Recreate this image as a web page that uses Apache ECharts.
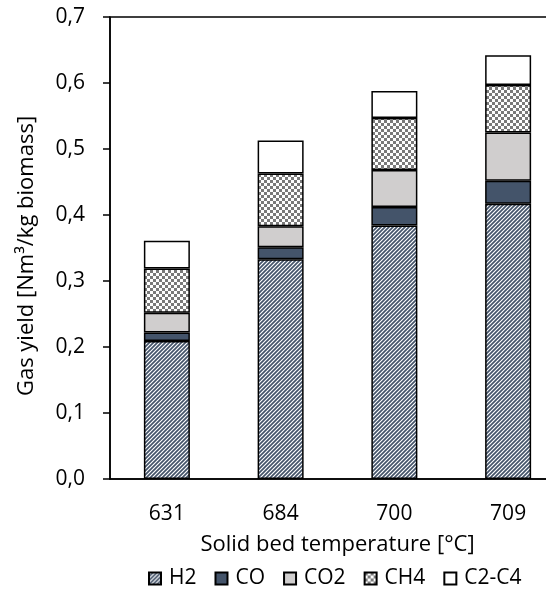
<!DOCTYPE html>
<html>
<head>
<meta charset="utf-8">
<script src="https://cdn.jsdelivr.net/npm/echarts@6/dist/echarts.min.js"></script>
<style>
  html, body { margin: 0; padding: 0; background: #fff; overflow: hidden; }
  body { width: 546px; height: 603px; }
  #chart { width: 580px; height: 603px; }
</style>
</head>
<body>
<div id="chart"></div>
<script>
// Solid bed temperature categories [°C]
const temperatures = ['631', '684', '700', '709'];

// Gas yield per component [Nm³/kg biomass]
const h2   = [0.209, 0.333, 0.384, 0.417];
const co   = [0.013, 0.018, 0.028, 0.035];
const co2  = [0.030, 0.032, 0.056, 0.073];
const ch4  = [0.067, 0.080, 0.079, 0.072];
const c2c4 = [0.042, 0.050, 0.041, 0.045];

const seriesNames = ['H2', 'CO', 'CO2', 'CH4', 'C2-C4'];
const yTickLabels = ['0,0', '0,1', '0,2', '0,3', '0,4', '0,5', '0,6', '0,7'];

// Fill patterns
function stripePattern() {
  const s = 4;
  const c = document.createElement('canvas');
  c.width = s; c.height = s;
  const g = c.getContext('2d');
  g.fillStyle = '#ffffff';
  g.fillRect(0, 0, s, s);
  g.strokeStyle = '#44546A';
  g.lineWidth = 1.7;
  g.beginPath();
  g.moveTo(-1, s + 1); g.lineTo(s + 1, -1);
  g.moveTo(-1, 1); g.lineTo(1, -1);
  g.moveTo(s - 1, s + 1); g.lineTo(s + 1, s - 1);
  g.stroke();
  return c;
}
function checkerPattern() {
  const s = 3;
  const c = document.createElement('canvas');
  c.width = s * 2; c.height = s * 2;
  const g = c.getContext('2d');
  g.fillStyle = '#ffffff';
  g.fillRect(0, 0, s * 2, s * 2);
  g.fillStyle = '#7a7a7a';
  g.fillRect(0, 0, s, s);
  g.fillRect(s, s, s, s);
  return c;
}

const fills = [
  { image: stripePattern(), repeat: 'repeat' },
  '#44546A',
  '#D0CECE',
  { image: checkerPattern(), repeat: 'repeat' },
  '#ffffff'
];
const values = [h2, co, co2, ch4, c2c4];

const fontFamily = '"Open Sans", "Noto Sans", sans-serif';

const chart = echarts.init(document.getElementById('chart'), null, { renderer: 'canvas' });

chart.setOption({
  animation: false,
  backgroundColor: '#ffffff',
  textStyle: { fontFamily: fontFamily, color: '#000' },
  grid: {
    left: 110, top: 17, width: 455, height: 462,
    show: true, borderColor: '#000', borderWidth: 1.5, backgroundColor: 'transparent'
  },
  legend: {
    data: seriesNames,
    left: 148, top: 568,
    padding: 0,
    icon: 'rect',
    itemWidth: 12, itemHeight: 12,
    itemGap: 18,
    textStyle: { fontFamily: fontFamily, fontSize: 21, color: '#000', padding: [0, 0, 0, 3] }
  },
  xAxis: {
    type: 'category',
    data: temperatures,
    name: 'Solid bed temperature [°C]',
    nameLocation: 'middle',
    nameGap: 55,
    nameTextStyle: { fontSize: 22, color: '#000', fontFamily: fontFamily },
    axisLine: { lineStyle: { color: '#000', width: 1.5 } },
    axisTick: { show: false },
    axisLabel: { fontSize: 21, color: '#000', margin: 25, fontFamily: fontFamily }
  },
  yAxis: {
    type: 'value',
    min: 0, max: 0.7, interval: 0.1,
    name: 'Gas yield [Nm³/kg biomass]',
    nameLocation: 'middle',
    nameGap: 72,
    nameTextStyle: { fontSize: 22, color: '#000', fontFamily: fontFamily, padding: [0, 16, 0, 0] },
    axisLine: { show: true, lineStyle: { color: '#000', width: 1.5 } },
    axisTick: { show: true, inside: false, length: 7, lineStyle: { color: '#000', width: 1.5 } },
    splitLine: { show: false },
    axisLabel: {
      fontSize: 21, color: '#000', margin: 25, fontFamily: fontFamily,
      formatter: function (v) { return yTickLabels[Math.round(v * 10)]; }
    }
  },
  series: seriesNames.map(function (name, i) {
    return {
      name: name,
      type: 'bar',
      stack: 'gas',
      barWidth: 46,
      data: values[i],
      itemStyle: { color: fills[i], borderColor: '#000', borderWidth: 1.5 }
    };
  })
});
</script>
</body>
</html>
